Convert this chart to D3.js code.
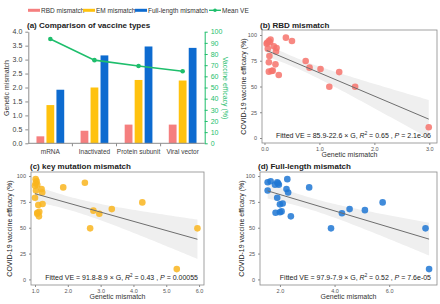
<!DOCTYPE html>
<html>
<head>
<meta charset="utf-8">
<script src="https://cdn.jsdelivr.net/npm/d3@7"></script>
<style>
  body { margin: 0; background: #fff; }
  svg { font-family: "Liberation Sans", Arial, sans-serif; }
</style>
</head>
<body>
<div id="chart"></div>
<script>
// ---- data ----
const vaccineTypes = ["mRNA", "Inactivated", "Protein subunit", "Viral vector"];
const seriesNames = ["RBD mismatch", "EM mismatch", "Full-length mismatch"];
const rbdMismatch = [0.25, 0.45, 0.67, 0.67];
const emMismatch = [1.37, 2.0, 2.27, 2.25];
const fullMismatch = [1.92, 3.15, 3.47, 3.42];
const meanVE = [93.5, 74.5, 69.2, 64.6];
const leftTicks = [0, 0.5, 1, 1.5, 2, 2.5, 3, 3.5, 4];
const rightTicks = [0, 10, 20, 30, 40, 50, 60, 70, 80, 90, 100];

// panel b: RBD mismatch vs VE
const rbdX = [0.04, 0.05, 0.08, 0.1, 0.11, 0.06, 0.17, 0.22, 0.21, 0.09, 0.08, 0.2, 0.08, 0.13, 0.15, 0.26, 0.39, 0.5, 0.75, 0.82, 1.02, 1.18, 1.36, 1.65, 2.99];
const rbdVE = [91.6, 92.5, 94.2, 93, 95.5, 86.7, 89, 87.4, 84, 79.6, 73.5, 71.5, 64.4, 65, 65.4, 61.2, 97.4, 94.2, 74.8, 68.3, 67, 49.8, 64, 49.8, 10.4];
// panel c: key mutation mismatch vs VE
const keyX = [1.02, 1.02, 1.05, 1.07, 1.0, 1.03, 1.2, 1.22, 1.0, 1.1, 1.23, 1.07, 1.13, 1.07, 1.12, 1.86, 2.52, 2.78, 2.96, 3.34, 2.68, 4.27, 5.32, 5.95];
const keyVE = [97, 93, 95, 91.6, 90.5, 86, 87.4, 84, 79, 72, 73, 64.5, 65.5, 63.5, 61, 89, 93.5, 66.5, 63.5, 68, 49.4, 74.5, 10, 49.4];
// panel d: full-length mismatch vs VE
const fullX = [1.55, 1.66, 1.55, 1.82, 1.9, 1.96, 1.93, 2.27, 2.24, 2.3, 1.9, 2.0, 2.1, 1.84, 2.0, 2.06, 2.4, 3.07, 3.87, 4.27, 4.55, 5.11, 5.76, 7.33, 7.46];
const fullVE = [94, 95, 86, 91.6, 94, 91.6, 93, 97, 87.4, 84, 79, 72.6, 73.5, 64.5, 65, 65.8, 61, 89, 49.4, 64, 68, 67, 74.5, 49.4, 10];

// fitted coefficients printed in the figure
const fitIntercept = [85.9, 91.8, 97.9];
const fitSlope = [-22.6, -8.9, -7.9];
const fitR2 = ["0.65", "0.43", "0.52"];
const fitP = ["2.1e-06", "0.00055", "7.6e-05"];
const veTicks = [0, 25, 50, 75, 100];

const W = 440, H = 304;
const svg = d3.select("#chart").append("svg").attr("width", W).attr("height", H);

const barColors = ["#F57F7F", "#FFC20E", "#0D6BD0"];
const green = "#1EBE6C";

// ================= panel (a) =================
const x = d3.scaleBand().domain(vaccineTypes).range([28.3, 204.7]);
const xSub = d3.scaleBand().domain(seriesNames).range([0, x.bandwidth()])
  .paddingInner(0.22).paddingOuter(0.82);
const yL = d3.scaleLinear().domain([0, 4]).range([143.3, 31.7]);
const yR = d3.scaleLinear().domain([0, 100]).range([143.3, 31.7]);
const barSeries = [rbdMismatch, emMismatch, fullMismatch];

const ga = svg.append("g");
seriesNames.forEach((s, si) => {
  ga.selectAll(null).data(vaccineTypes).join("rect")
    .attr("x", (d) => x(d) + xSub(s))
    .attr("width", xSub.bandwidth())
    .attr("y", (d, i) => yL(barSeries[si][i]))
    .attr("height", (d, i) => yL(0) - yL(barSeries[si][i]))
    .attr("fill", barColors[si]);
});

// left axis
const axL = ga.append("g").attr("transform", "translate(28.3,0)")
  .call(d3.axisLeft(yL).tickValues(leftTicks).tickFormat(d3.format(".1f")).tickSize(3).tickSizeOuter(0));
axL.select(".domain").attr("stroke", "#8c8c8c");
axL.selectAll(".tick line").attr("stroke", "#8c8c8c");
axL.selectAll("text").attr("font-size", 7).attr("fill", "#404040");

// right axis
const axR = ga.append("g").attr("transform", "translate(204.7,0)")
  .call(d3.axisRight(yR).tickValues(rightTicks).tickSize(3).tickSizeOuter(0));
axR.select(".domain").attr("stroke", green);
axR.selectAll(".tick line").attr("stroke", green);
axR.selectAll("text").attr("font-size", 7).attr("fill", green);

// bottom axis
ga.append("line").attr("x1", 28.3).attr("x2", 204.7).attr("y1", yL(0)).attr("y2", yL(0))
  .attr("stroke", "#8c8c8c");
ga.selectAll(null).data(vaccineTypes.slice(1)).join("line")
  .attr("x1", (d) => x(d)).attr("x2", (d) => x(d))
  .attr("y1", yL(0)).attr("y2", yL(0) + 3).attr("stroke", "#8c8c8c");
ga.selectAll(null).data(vaccineTypes).join("text")
  .attr("x", (d) => x(d) + x.bandwidth() / 2).attr("y", 154)
  .attr("text-anchor", "middle").attr("font-size", 6.5).attr("fill", "#404040")
  .text((d) => d);

// mean VE line
const lineVE = d3.line().x((d, i) => x(vaccineTypes[i]) + x.bandwidth() / 2).y((d) => yR(d));
ga.append("path").datum(meanVE).attr("d", lineVE).attr("fill", "none")
  .attr("stroke", green).attr("stroke-width", 1.6);
ga.selectAll(null).data(meanVE).join("circle")
  .attr("cx", (d, i) => x(vaccineTypes[i]) + x.bandwidth() / 2).attr("cy", (d) => yR(d))
  .attr("r", 2.3).attr("fill", green);

// axis titles
ga.append("text").attr("transform", "translate(9,88) rotate(-90)")
  .attr("text-anchor", "middle").attr("font-size", 7).attr("fill", "#333").text("Genetic mismatch");
ga.append("text").attr("transform", "translate(223,88) rotate(90)")
  .attr("text-anchor", "middle").attr("font-size", 7).attr("fill", green).text("Vaccine efficacy (%)");

// title
svg.append("text").attr("x", 27).attr("y", 27.5).attr("font-size", 8).attr("font-weight", "bold")
  .attr("fill", "#222").text("(a) Comparison of vaccine types");

// legend
const legend = svg.append("g").attr("transform", "translate(28,10.3)");
const legendItems = seriesNames.concat(["Mean VE"]);
const legendColors = barColors.concat([green]);
const legendX = [0, 55, 107, 181];
legendItems.forEach((name, i) => {
  const g = legend.append("g").attr("transform", "translate(" + legendX[i] + ",0)");
  if (i < 3) {
    g.append("rect").attr("x", 0).attr("y", -1.5).attr("width", 12).attr("height", 3).attr("fill", legendColors[i]);
  } else {
    g.append("line").attr("x1", 0).attr("x2", 12).attr("y1", 0).attr("y2", 0)
      .attr("stroke", green).attr("stroke-width", 1.4);
    g.append("circle").attr("cx", 6).attr("cy", 0).attr("r", 1.8).attr("fill", green);
  }
  g.append("text").attr("x", 13).attr("y", 2.3).attr("font-size", 6.5).attr("fill", "#333").text(name);
});

// ================= scatter panels =================
function scatterPanel(opts) {
  const { xs, ys, xDomain, xRange, yDomain, yRange, xTicks, color, title, titlePos, idx, yTitleX, xTitleY, annoY } = opts;
  const sx = d3.scaleLinear().domain(xDomain).range(xRange);
  const sy = d3.scaleLinear().domain(yDomain).range(yRange);
  const g = svg.append("g");

  // regression band (95% CI around printed fit)
  const a = fitIntercept[idx], b = fitSlope[idx];
  const n = xs.length;
  const mx = d3.mean(xs);
  const sxx = d3.sum(xs, (v) => (v - mx) * (v - mx));
  const sse = d3.sum(xs, (v, i) => Math.pow(ys[i] - (a + b * v), 2));
  const s = Math.sqrt(sse / (n - 2));
  const tq = 2.07;
  const [x0, x1] = d3.extent(xs);
  const grid = d3.range(0, 61).map((k) => x0 + (x1 - x0) * k / 60);
  const band = grid.map((v) => {
    const fit = a + b * v;
    const hw = tq * s * Math.sqrt(1 / n + (v - mx) * (v - mx) / sxx);
    return { v, lo: fit - hw, hi: fit + hw };
  });
  g.append("path").datum(band)
    .attr("d", d3.area().x((d) => sx(d.v)).y0((d) => sy(d.lo)).y1((d) => sy(d.hi)))
    .attr("fill", "#efefef");

  // points
  g.selectAll(null).data(xs).join("circle")
    .attr("cx", (d) => sx(d)).attr("cy", (d, i) => sy(ys[i]))
    .attr("r", 3.3).attr("fill", color).attr("fill-opacity", 0.85);

  // fitted line
  g.append("line").attr("x1", sx(x0)).attr("x2", sx(x1))
    .attr("y1", sy(a + b * x0)).attr("y2", sy(a + b * x1))
    .attr("stroke", "#6e6e6e").attr("stroke-width", 1);

  // border
  g.append("rect").attr("x", xRange[0]).attr("y", yRange[1])
    .attr("width", xRange[1] - xRange[0]).attr("height", yRange[0] - yRange[1])
    .attr("fill", "none").attr("stroke", "#8a8a8a").attr("stroke-width", 0.8);

  // axes
  const ax = g.append("g").attr("transform", "translate(0," + yRange[0] + ")")
    .call(d3.axisBottom(sx).tickValues(xTicks).tickSize(2).tickSizeOuter(0));
  const ay = g.append("g").attr("transform", "translate(" + xRange[0] + ",0)")
    .call(d3.axisLeft(sy).tickValues(veTicks).tickSize(2).tickSizeOuter(0));
  [ax, ay].forEach((axis) => {
    axis.select(".domain").remove();
    axis.selectAll(".tick line").attr("stroke", "#8a8a8a");
    axis.selectAll("text").attr("font-size", 5.5).attr("fill", "#555");
  });
  ax.selectAll("text").attr("dy", "0.6em");

  // axis titles
  g.append("text").attr("x", (xRange[0] + xRange[1]) / 2).attr("y", xTitleY)
    .attr("text-anchor", "middle").attr("font-size", 7).attr("fill", "#333").text("Genetic mismatch");
  g.append("text").attr("transform", "translate(" + yTitleX + "," + (yRange[0] + yRange[1]) / 2 + ") rotate(-90)")
    .attr("text-anchor", "middle").attr("font-size", 7).attr("fill", "#222").text("COVID-19 vaccine efficacy (%)");

  // title
  svg.append("text").attr("x", titlePos[0]).attr("y", titlePos[1]).attr("font-size", 8)
    .attr("font-weight", "bold").attr("fill", "#222").text(title);

  // annotation
  const t = g.append("text").attr("x", xRange[1] - 6).attr("y", annoY)
    .attr("text-anchor", "end").attr("font-size", 7).attr("fill", "#222");
  t.append("tspan").text("Fitted VE = " + a + "-" + Math.abs(b) + " \u00d7 G,  ");
  t.append("tspan").attr("font-style", "italic").text("R");
  t.append("tspan").attr("font-size", 4.5).attr("dy", -3).text("2");
  t.append("tspan").attr("dy", 3).text(" = " + fitR2[idx] + " , ");
  t.append("tspan").attr("font-style", "italic").text("P");
  t.append("tspan").text(" = " + fitP[idx]);
}

scatterPanel({
  xs: rbdX, ys: rbdVE, idx: 0, color: "#F6736C",
  xDomain: [-0.045, 3.14], xRange: [262, 437], xTicks: [0, 1, 2, 3],
  yDomain: [-4.85, 104.85], yRange: [143, 30],
  title: "(b) RBD mismatch", titlePos: [260, 27.5],
  yTitleX: 246, xTitleY: 157, annoY: 137.5
});
scatterPanel({
  xs: keyX, ys: keyVE, idx: 1, color: "#F9B51E",
  xDomain: [0.878, 6.15], xRange: [31, 204], xTicks: [1, 2, 3, 4, 5, 6],
  yDomain: [-5.4, 103.9], yRange: [285, 172],
  title: "(c) key mutation mismatch", titlePos: [30, 168.5],
  yTitleX: 12, xTitleY: 299, annoY: 280
});
scatterPanel({
  xs: fullX, ys: fullVE, idx: 2, color: "#1F77D3",
  xDomain: [1.27, 7.75], xRange: [260, 437], xTicks: [2, 4, 6],
  yDomain: [-5.4, 103.9], yRange: [285, 172],
  title: "(d) Full-length mismatch", titlePos: [258, 168.5],
  yTitleX: 244, xTitleY: 299, annoY: 280
});
</script>
</body>
</html>
